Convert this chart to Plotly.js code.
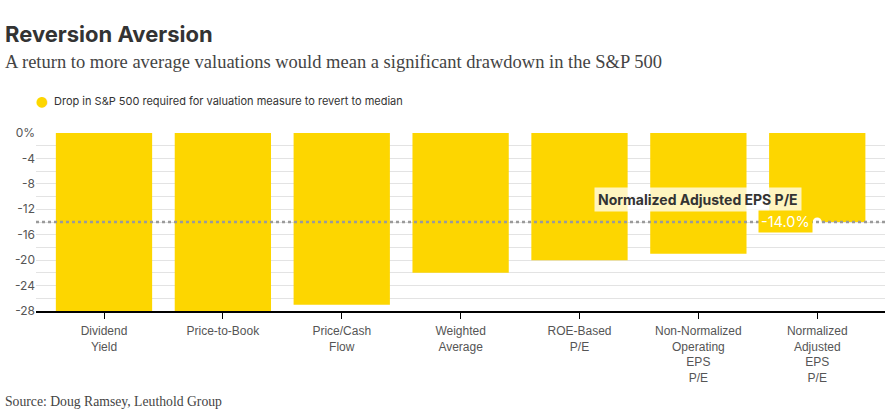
<!DOCTYPE html>
<html>
<head>
<meta charset="utf-8">
<script src="https://cdn.plot.ly/plotly-3.0.1.min.js"></script>
<style>
html,body{margin:0;padding:0;background:#fff;}
#chart{width:889px;height:413px;}
</style>
</head>
<body>
<div id="chart"></div>
<script>
const categories = ["Dividend<br>Yield", "Price-to-Book", "Price/Cash<br>Flow", "Weighted<br>Average", "ROE-Based<br>P/E", "Non-Normalized<br>Operating<br>EPS<br>P/E", "Normalized<br>Adjusted<br>EPS<br>P/E"];
const drops = [-30, -30, -27, -22, -20, -19, -14];
const medianLine = -14;
const highlightLabel = "Normalized Adjusted EPS P/E";
const highlightValue = "-14.0%";
const yTickVals = [0, -4, -8, -12, -16, -20, -24, -28];
const yTickText = ["0%", "-4", "-8", "-12", "-16", "-20", "-24", "-28"];
const seriesName = "Drop in S&P 500 required for valuation measure to revert to median";

const yellow = "#FDD600";
const idx = [0,1,2,3,4,5,6];
const PW = 849, PH = 178, L = 36, T = 133;
const px = v => (v - L) / PW;
const py = v => 1 - (v - T) / PH;

const data = [
  {
    type: "bar",
    x: idx,
    y: drops,
    marker: {color: yellow},
    hoverinfo: "skip",
    showlegend: false
  },
  {
    type: "scatter",
    mode: "markers",
    x: [6],
    y: [medianLine],
    marker: {color: "#fff", size: 9},
    hoverinfo: "skip",
    showlegend: false,
    cliponaxis: false
  }
];

const layout = {
  width: 889,
  height: 413,
  margin: {l: 36, r: 4, t: 133, b: 102},
  paper_bgcolor: "#fff",
  plot_bgcolor: "#fff",
  showlegend: false,
  bargap: 0.19,
  xaxis: {
    range: [-0.572, 6.57],
    tickvals: idx,
    ticktext: categories,
    ticks: "outside",
    ticklen: 6,
    tickcolor: "#000",
    tickwidth: 1,
    showline: true,
    linecolor: "#000",
    linewidth: 1.5,
    showgrid: false,
    zeroline: false,
    ticklabelstandoff: 2,
    tickfont: {family: "Liberation Sans Narrow, Arial Narrow, sans-serif", size: 12, color: "#555"},
    fixedrange: true
  },
  yaxis: {
    range: [-28, 0],
    tickvals: yTickVals,
    ticktext: yTickText,
    showgrid: true,
    gridcolor: "#e3e3e3",
    gridwidth: 1,
    minor: {dtick: 2, showgrid: true, gridcolor: "#e3e3e3", gridwidth: 1, tick0: 0},
    zeroline: false,
    showline: false,
    ticks: "",
    ticklabelstandoff: 0,
    tickfont: {family: "Inter, Noto Sans, sans-serif", size: 12, color: "#555"},
    fixedrange: true
  },
  shapes: [
    {
      type: "line", xref: "paper", yref: "y",
      x0: 0, x1: 1, y0: medianLine, y1: medianLine,
      line: {color: "#9a9a9a", width: 2.5, dash: "dot"}
    }
  ],
  annotations: [
    {
      xref: "paper", yref: "paper", x: px(3), y: py(34),
      xanchor: "left", yanchor: "middle", showarrow: false,
      text: "<b>Reversion Aversion</b>",
      font: {family: "Inter, Roboto, sans-serif", size: 22, color: "#333"}
    },
    {
      xref: "paper", yref: "paper", x: px(3), y: py(62),
      xanchor: "left", yanchor: "middle", showarrow: false,
      text: "A return to more average valuations would mean a significant drawdown in the S&P 500",
      font: {family: "Liberation Serif, DejaVu Serif, serif", size: 18.5, color: "#444"}
    },
    {
      xref: "paper", yref: "paper", x: px(52), y: py(101),
      xanchor: "left", yanchor: "middle", showarrow: false,
      text: seriesName,
      font: {family: "Inter, Noto Sans, sans-serif", size: 11, color: "#333"}
    },
    {
      xref: "paper", yref: "paper", x: px(42), y: py(101),
      xanchor: "center", yanchor: "middle", showarrow: false,
      text: "●",
      font: {family: "DejaVu Sans, sans-serif", size: 14, color: yellow}
    },
    {
      xref: "x", yref: "y", x: 5.87, y: medianLine + 3.5,
      xanchor: "right", yanchor: "middle", showarrow: false,
      text: "<b>" + highlightLabel + "</b>",
      bgcolor: "rgba(255,255,255,0.75)",
      borderpad: 3,
      font: {family: "Inter, Roboto, sans-serif", size: 14, color: "#333"}
    },
    {
      xref: "x", yref: "y", x: 5.965, y: medianLine + 0.1,
      xanchor: "right", yanchor: "middle", showarrow: false,
      text: highlightValue,
      bgcolor: yellow,
      borderpad: 2,
      font: {family: "Inter, Roboto, sans-serif", size: 14.5, color: "#fff"}
    },
    {
      xref: "paper", yref: "paper", x: px(3), y: py(401),
      xanchor: "left", yanchor: "middle", showarrow: false,
      text: "Source: Doug Ramsey, Leuthold Group",
      font: {family: "Liberation Serif, DejaVu Serif, serif", size: 13.7, color: "#444"}
    }
  ]
};

Plotly.newPlot("chart", data, layout, {displayModeBar: false, staticPlot: true});
</script>
</body>
</html>
